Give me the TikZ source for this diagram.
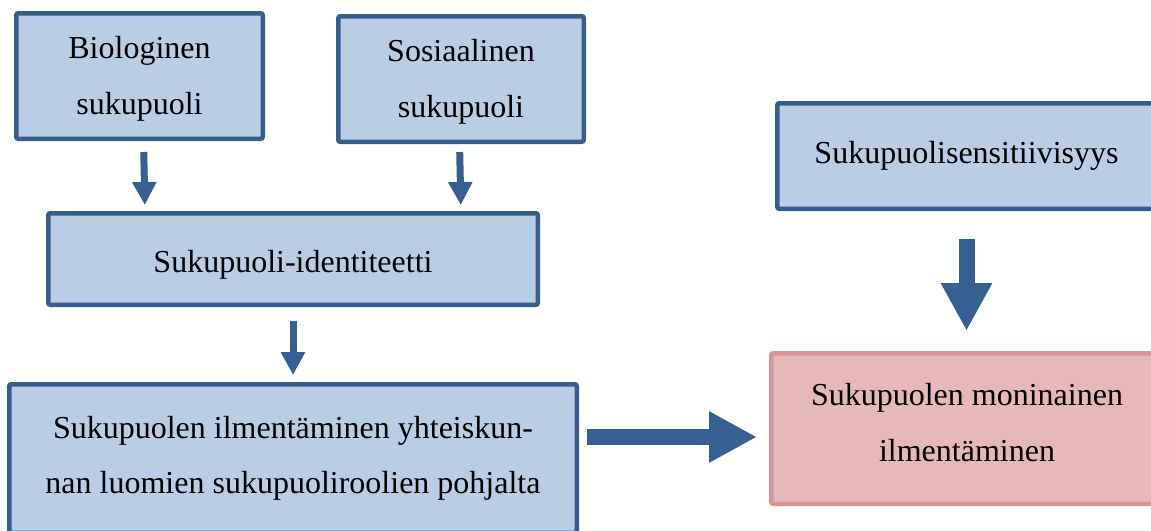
\documentclass[tikz,border=0pt]{standalone}
\usepackage{fontspec}
\setmainfont{Liberation Serif}
\usetikzlibrary{arrows.meta}
\definecolor{boxfill}{RGB}{185,205,229}
\definecolor{boxline}{RGB}{56,93,138}
\definecolor{arrowblue}{RGB}{55,96,146}
\definecolor{pinkfill}{RGB}{230,185,184}
\definecolor{pinkline}{RGB}{217,150,148}

\begin{document}
\begin{tikzpicture}[x=1pt, y=-1pt, every text node part/.style={align=center},
  box/.style={draw=boxline, fill=boxfill, line width=4.5pt, rounded corners=2pt, inner sep=0pt, outer sep=0pt, font=\fontsize{32}{55.5}\selectfont},
  pinkbox/.style={box, draw=pinkline, fill=pinkfill},
  smallflow/.style={-{Triangle[width=23pt,length=23pt]}, line width=7pt, arrowblue},
  bigflow/.style={-{Triangle[width=48pt,length=48pt]}, line width=16pt, arrowblue}]
\clip (0,0) rectangle (1151,530);
\draw
  node at (139.5,76)[box, minimum width=246.5pt, minimum height=125.5pt, text height=83.5pt](bio){Biologinen\\sukupuoli}
  node at (461,79)[box, minimum width=245.5pt, minimum height=125.5pt, text height=83.5pt](sos){Sosiaalinen\\sukupuoli}
  node at (293,259)[box, minimum width=489.5pt, minimum height=91.5pt, text height=34pt](ident){Sukupuoli-identiteetti}
  node at (293,458.5)[box, minimum width=567.5pt, minimum height=148.5pt](ilm){Sukupuolen ilmentäminen yhteiskun-\\nan luomien sukupuoliroolien pohjalta}
  node at (966.5,156)[box, minimum width=378.5pt, minimum height=105.5pt](sens){Sukupuolisensitiivisyys}
  node at (967,428.5)[pinkbox, minimum width=391.5pt, minimum height=150.5pt, text depth=12pt](moni){Sukupuolen moninainen\\ilmentäminen};
  \draw[smallflow, shorten <=13.25pt, shorten >=8.25pt] ([xshift=4pt]bio.south) -- ([xshift=5.5pt]bio.south |- ident.north);
  \draw[smallflow, shorten <=10.25pt, shorten >=8.25pt] ([xshift=-1.5pt]sos.south) -- (sos.south |- ident.north);
  \draw[smallflow, shorten <=16.25pt, shorten >=9.25pt] (ident.south) -- (ilm.north);
  \draw[bigflow, shorten <=30.25pt, shorten >=22.25pt] (sens.south) -- (sens.south |- moni.north);
  \draw[bigflow, shorten <=10.25pt, shorten >=14.25pt] ([yshift=21.5pt]ilm.east) -- ([yshift=21.5pt]ilm.east -| moni.west);
\end{tikzpicture}
\end{document}
